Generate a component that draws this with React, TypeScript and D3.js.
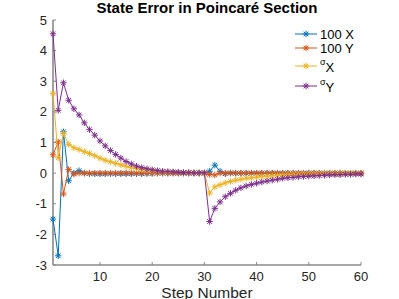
import * as d3 from "d3";

const steps = d3.range(1, 61);

const x100: number[] = [
  -1.5, -2.7, 1.35, -0.25, 0.0, 0.08, 0.0, -0.02, -0.02, -0.02,
  -0.02, -0.02, -0.02, -0.02, -0.02, -0.02, -0.02, -0.02, -0.01, -0.01,
  0.0, 0.0, 0.0, 0.0, 0.0, 0.0, 0.0, 0.0, 0.0, 0.0,
  0.06, 0.26, 0.06, -0.02, 0.01, 0.0, 0.0, 0.0, 0.0, 0.0,
  0.0, 0.0, 0.0, 0.0, 0.0, 0.0, 0.0, 0.0, 0.0, 0.0,
  0.0, 0.0, 0.0, 0.0, 0.0, 0.0, 0.0, 0.0, 0.0, 0.0,
];

const y100: number[] = [
  0.6, 1.02, -0.68, 0.12, -0.03, 0.0, 0.0, 0.0, 0.0, 0.0,
  0.0, 0.0, 0.0, 0.0, 0.0, 0.0, 0.0, 0.0, 0.0, 0.0,
  0.0, 0.0, 0.0, 0.0, 0.0, 0.0, 0.0, 0.0, 0.0, 0.0,
  -0.04, -0.06, 0.0, 0.0, 0.0, 0.0, 0.0, 0.0, 0.0, 0.0,
  0.0, 0.0, 0.0, 0.0, 0.0, 0.0, 0.0, 0.0, 0.0, 0.0,
  0.0, 0.0, 0.0, 0.0, 0.0, 0.0, 0.0, 0.0, 0.0, 0.0,
];

const sigmaX: number[] = [
  2.6, 0.5, 1.3, 0.94, 0.83, 0.77, 0.7, 0.64, 0.57, 0.49,
  0.42, 0.37, 0.32, 0.27, 0.22, 0.18, 0.15, 0.12, 0.1, 0.08,
  0.06, 0.05, 0.04, 0.03, 0.02, 0.02, 0.01, 0.01, 0.0, 0.0,
  -0.65, -0.45, -0.38, -0.32, -0.27, -0.23, -0.2, -0.17, -0.15, -0.13,
  -0.11, -0.1, -0.09, -0.08, -0.07, -0.06, -0.05, -0.05, -0.04, -0.04,
  -0.03, -0.03, -0.02, -0.02, -0.02, -0.01, -0.01, -0.01, -0.01, -0.01,
];

const sigmaY: number[] = [
  4.55, 2.05, 2.95, 2.38, 2.1, 1.9, 1.64, 1.42, 1.24, 1.05,
  0.89, 0.74, 0.61, 0.49, 0.38, 0.3, 0.23, 0.18, 0.14, 0.11,
  0.08, 0.06, 0.05, 0.04, 0.03, 0.02, 0.02, 0.01, 0.01, 0.01,
  -1.58, -1.15, -0.94, -0.77, -0.66, -0.56, -0.48, -0.42, -0.37, -0.33,
  -0.29, -0.26, -0.23, -0.2, -0.17, -0.15, -0.14, -0.12, -0.11, -0.1,
  -0.09, -0.08, -0.07, -0.06, -0.05, -0.05, -0.04, -0.04, -0.03, -0.03,
];

const series = [
  { name: "100 X", values: x100, color: "#0072BD" },
  { name: "100 Y", values: y100, color: "#D95319" },
  { name: "σX", values: sigmaX, color: "#EDB120" },
  { name: "σY", values: sigmaY, color: "#7E2F8E" },
];

const yTicks = [-3, -2, -1, 0, 1, 2, 3, 4, 5];
const xTicks = [10, 20, 30, 40, 50, 60];

const W = 399;
const H = 299;
const left = 53;
const right = 361;
const top = 20;
const bottom = 265;
const font = "Liberation Sans, Arial, Helvetica, sans-serif";

function Star({ cx, cy, color }: { cx: number; cy: number; color: string }) {
  const r = 3.2;
  const d = 2.3;
  return (
    <path
      d={`M${cx - r},${cy}H${cx + r}M${cx},${cy - r}V${cy + r}M${cx - d},${cy - d}L${cx + d},${cy + d}M${cx - d},${cy + d}L${cx + d},${cy - d}`}
      stroke={color}
      strokeWidth={1}
      fill="none"
    />
  );
}

export default function App() {
  const xScale = d3.scaleLinear().domain([1, 60]).range([left, right]);
  const yScale = d3.scaleLinear().domain([-3, 5]).range([bottom, top]);
  const line = d3
    .line<number>()
    .x((_, i) => xScale(steps[i]))
    .y((v) => yScale(v));

  const axisColor = "#8a8a8a";
  const textColor = "#262626";

  const legendY = [34, 48, 66, 86];

  return (
    <svg
      width={W}
      height={H}
      style={{ position: "absolute", left: 0, top: 0, background: "#fff" }}
      fontFamily={font}
    >
      <text x={207} y={12.5} textAnchor="middle" fontWeight="bold" fontSize={15} fill="#000">
        State Error in Poincaré Section
      </text>

      {/* axes */}
      <line x1={left} x2={left} y1={top} y2={bottom} stroke={axisColor} strokeWidth={1.6} />
      <line x1={left} x2={right} y1={bottom} y2={bottom} stroke={axisColor} strokeWidth={1.6} />
      {yTicks.map((t) => (
        <g key={"y" + t}>
          <line x1={left} x2={left + 3} y1={yScale(t)} y2={yScale(t)} stroke={axisColor} strokeWidth={1} />
          <text x={left - 6} y={yScale(t)} dy="0.35em" textAnchor="end" fontSize={13} fill={textColor}>
            {t}
          </text>
        </g>
      ))}
      {xTicks.map((t) => (
        <g key={"x" + t}>
          <line x1={xScale(t)} x2={xScale(t)} y1={bottom} y2={bottom - 3} stroke={axisColor} strokeWidth={1} />
          <text x={xScale(t)} y={281} textAnchor="middle" fontSize={13} fill={textColor}>
            {t}
          </text>
        </g>
      ))}
      <text x={207} y={297.5} textAnchor="middle" fontSize={15.5} fill={textColor}>
        Step Number
      </text>

      {/* series */}
      {series.map((s) => (
        <g key={s.name}>
          <path d={line(s.values) ?? ""} fill="none" stroke={s.color} strokeWidth={1} />
          {s.values.map((v, i) => (
            <Star key={i} cx={xScale(steps[i])} cy={yScale(v)} color={s.color} />
          ))}
        </g>
      ))}

      {/* legend */}
      {series.map((s, i) => (
        <g key={"lg" + s.name}>
          <line x1={295} x2={317} y1={legendY[i]} y2={legendY[i]} stroke={s.color} strokeWidth={1} />
          <Star cx={306} cy={legendY[i]} color={s.color} />
          {i < 2 ? (
            <text x={320} y={legendY[i]} dy="0.35em" fontSize={13} fill="#000">
              {s.name}
            </text>
          ) : (
            <text x={320} y={legendY[i]} fontSize={13} fill="#000">
              <tspan fontSize={9} dy={-1}>σ</tspan>
              <tspan dy={7}>{s.name.slice(1)}</tspan>
            </text>
          )}
        </g>
      ))}
    </svg>
  );
}
